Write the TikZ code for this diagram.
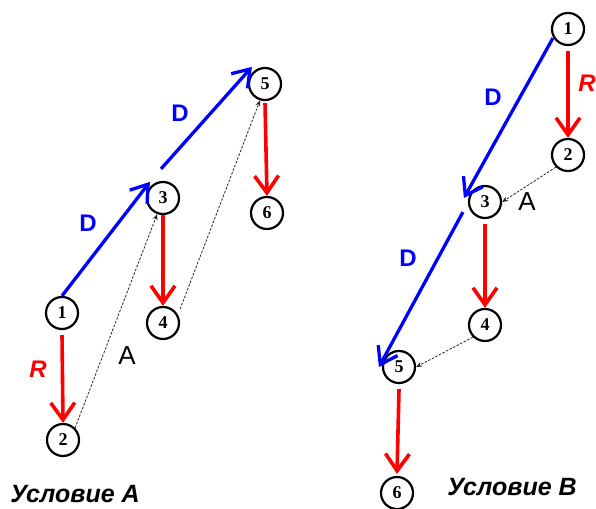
\documentclass[tikz,border=0pt]{standalone}
\usepackage{fontspec}
\setmainfont{Liberation Serif}
\setsansfont{Liberation Sans}
\usetikzlibrary{arrows.meta}
\definecolor{pblue}{RGB}{0,0,255}
\definecolor{pred}{RGB}{255,0,0}
\tikzset{
  vert/.style={circle,draw=black,line width=2.2pt,minimum size=32pt,inner sep=0pt,font=\fontsize{18}{18}\selectfont\bfseries},
  darrow/.style={draw=pblue,line width=3.3pt,-{Straight Barb[length=16pt,width=22pt,line width=3.3pt]}},
  rarrow/.style={draw=pred,line width=3.6pt,-{Straight Barb[length=17pt,width=24pt,line width=3.6pt]}},
  aarrow/.style={draw=black!85,line width=0.8pt,dash pattern=on 2.5pt off 1.5pt,-{Stealth[length=6pt,width=5pt]}},
  dlabel/.style={text=pblue,font=\sffamily\bfseries\fontsize{24}{24}\selectfont},
  rlabel/.style={text=pred,font=\sffamily\bfseries\itshape\fontsize{24}{24}\selectfont},
  alabel/.style={text=black,font=\sffamily\fontsize{26}{26}\selectfont},
  title/.style={text=black,font=\sffamily\bfseries\itshape\fontsize{25}{25}\selectfont,inner sep=0pt}
}
\begin{document}
\begin{tikzpicture}[x=1pt,y=-1pt]
\useasboundingbox[fill=white] (0,0) rectangle (596,508);
% Left diagram: Условие A
\node[vert] (a1) at (62,313) {1};
\node[vert] (a2) at (63,440) {2};
\node[vert] (a3) at (163,198) {3};
\node[vert] (a4) at (163,323) {4};
\node[vert] (a5) at (265,84) {5};
\node[vert] (a6) at (267,213) {6};
\draw[darrow] (a1.north) -- ([shift={(-1pt,4pt)}]a3.north west);
\draw[darrow] ([shift={(-2pt,12pt)}]a3.north) -- ([shift={(-1pt,5pt)}]a5.north west);
\draw[rarrow] ([yshift=-5pt]a1.south) -- (a2.north);
\draw[rarrow] (a3.south) -- (a4.north);
\draw[rarrow] ([yshift=-2pt]a5.south) -- (a6.north);
\draw[aarrow] (a2.north east) -- (a3.250);
\draw[aarrow] ([shift={(4pt,3pt)}]a4.40) -- (a5.253);
\node[dlabel] (ad1) at (88,223) {D};
\node[dlabel] (ad2) at (180,113) {D};
\node[rlabel] (ar) at (38,369) {R};
\node[alabel] (aa) at (127,356) {A};
\node[title] (at) at (75,494) {Условие A};
% Right diagram: Условие B
\node[vert] (b1) at (568,29) {1};
\node[vert] (b2) at (568,155) {2};
\node[vert] (b3) at (485,202) {3};
\node[vert] (b4) at (485,325) {4};
\node[vert] (b5) at (399,367) {5};
\node[vert] (b6) at (397,493) {6};
\draw[darrow] ([shift={(-3pt,3pt)}]b1.south west) -- ([shift={(-4pt,4pt)}]b3.west);
\draw[darrow] ([shift={(-10pt,2pt)}]b3.south west) -- ([xshift=-3pt]b5.west);
\draw[rarrow] ([yshift=-5pt]b1.south) -- (b2.north);
\draw[rarrow] ([yshift=-5pt]b3.south) -- (b4.north);
\draw[rarrow] ([yshift=-5pt]b5.south) -- ([yshift=2pt]b6.north);
\draw[aarrow] (b2.south west) -- (b3.east);
\draw[aarrow] (b4.south west) -- (b5.east);
\node[dlabel] (bd1) at (493,97) {D};
\node[dlabel] (bd2) at (408,258) {D};
\node[rlabel] (br) at (587,83) {R};
\node[alabel] (ba) at (527,202) {A};
\node[title] (bt) at (512,487) {Условие B};
\end{tikzpicture}
\end{document}
